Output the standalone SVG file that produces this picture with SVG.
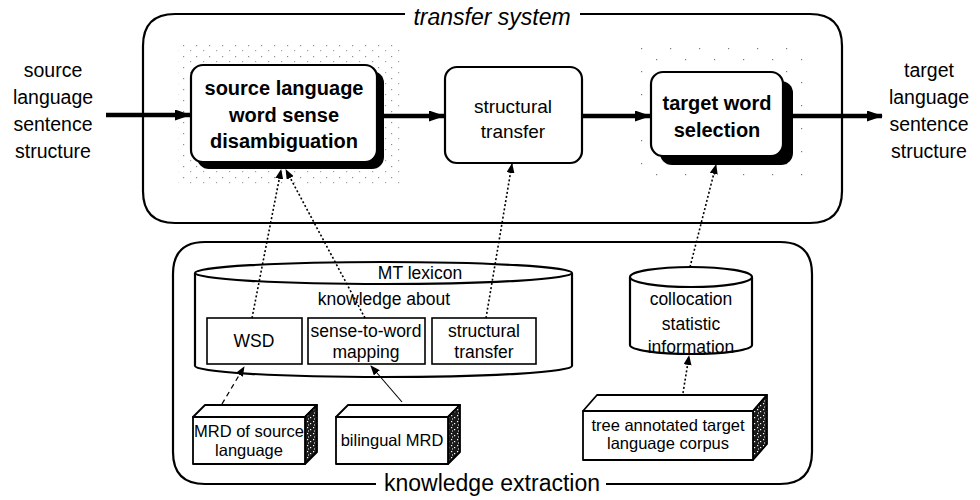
<svg xmlns="http://www.w3.org/2000/svg" width="980" height="500" viewBox="0 0 980 500">
<defs>
<style>
.t{font-family:"Liberation Sans",Arial,sans-serif;fill:#000;text-anchor:middle}
.lbl{font-size:19.5px}
.bold{font-size:20px;font-weight:bold}
.reg{font-size:19px}
.in{font-size:17.5px}
.cube{font-size:16.5px}
.title{font-size:23px}
.cont{fill:none;stroke:#000;stroke-width:2.2}
.box{fill:#fff;stroke:#000;stroke-width:2.2}
.ibox{fill:#fff;stroke:#000;stroke-width:1.6}
.shadow{fill:#000}
.thick{stroke:#000;stroke-width:4.5;fill:none}
.dot{stroke:#000;stroke-width:1.6;stroke-dasharray:2 2.2;fill:none}
.dash{stroke:#000;stroke-width:1.3;stroke-dasharray:5 4;fill:none}
.thin{stroke:#000;stroke-width:1.1;fill:none}
.face{fill:#fff;stroke:#000;stroke-width:1.8;stroke-linejoin:round}
.side{fill:url(#grain);stroke:#000;stroke-width:1.8;stroke-linejoin:round}
</style>
<marker id="big" markerUnits="userSpaceOnUse" markerWidth="16" markerHeight="11" refX="15" refY="5.5" orient="auto">
<path d="M0,0 L16,5.5 L0,11 z" fill="#000"/>
</marker>
<marker id="small" markerUnits="userSpaceOnUse" markerWidth="10" markerHeight="8" refX="9" refY="4" orient="auto">
<path d="M0,0 L10,4 L0,8 z" fill="#000"/>
</marker>
<pattern id="grain" width="6" height="6" patternUnits="userSpaceOnUse">
<rect width="6" height="6" fill="#1a1a1a"/>
<rect x="1" y="1" width="1.2" height="1.2" fill="#fff"/>
<rect x="4" y="3" width="1.2" height="1.2" fill="#fff"/>
<rect x="2" y="4.5" width="1" height="1" fill="#fff"/>
</pattern>
<pattern id="stip" width="13" height="11" patternUnits="userSpaceOnUse">
<rect x="1" y="1" width="1.2" height="1.2" fill="#444"/>
<rect x="8" y="6" width="1.2" height="1.2" fill="#666"/>
</pattern>
<pattern id="stip2" width="29" height="23" patternUnits="userSpaceOnUse">
<rect x="3" y="2" width="1.2" height="1.2" fill="#444"/>
<rect x="18" y="13" width="1.2" height="1.2" fill="#444"/>
</pattern>
</defs>

<rect width="980" height="500" fill="#fff"/>

<!-- containers -->
<g id="transfer-system">
<path class="cont" d="M405,14 L175,14 Q143,14 143,46 L143,191 Q143,223 175,223 L810,223 Q842,223 842,191 L842,46 Q842,14 810,14 L580,14"/>
<text class="t title" x="492" y="25" font-style="italic">transfer system</text>
</g>
<g id="knowledge-extraction">
<path class="cont" d="M376,484 L205,484 Q173,484 173,452 L173,274 Q173,242 205,242 L780,242 Q812,242 812,274 L812,452 Q812,484 780,484 L606,484"/>
<text class="t title" x="492" y="491">knowledge extraction</text>
</g>

<!-- side labels -->
<g id="source-input">
<text class="t lbl" x="53" y="77">source</text>
<text class="t lbl" x="53" y="104">language</text>
<text class="t lbl" x="53" y="131">sentence</text>
<text class="t lbl" x="53" y="158">structure</text>
</g>
<g id="target-output">
<text class="t lbl" x="929" y="77">target</text>
<text class="t lbl" x="929" y="104">language</text>
<text class="t lbl" x="929" y="131">sentence</text>
<text class="t lbl" x="929" y="158">structure</text>
</g>

<!-- source WSD -->
<g id="source-wsd">
<rect x="178" y="42" width="222" height="145" fill="url(#stip)" opacity="0.6"/>
<rect class="shadow" x="197" y="71" width="187" height="98" rx="12"/>
<rect class="box" x="191" y="65" width="186" height="97" rx="12"/>
<text class="t bold" x="284" y="95">source language</text>
<text class="t bold" x="284" y="122">word sense</text>
<text class="t bold" x="284" y="148">disambiguation</text>
</g>

<g id="structural-transfer">
<rect class="box" x="445" y="67" width="137" height="96" rx="12"/>
<text class="t reg" x="513" y="113">structural</text>
<text class="t reg" x="513" y="138">transfer</text>
</g>

<g id="target-word-selection">
<rect x="640" y="40" width="170" height="145" fill="url(#stip2)" opacity="0.7"/>
<rect class="shadow" x="660" y="81" width="133" height="84" rx="12"/>
<rect class="box" x="651" y="72" width="132" height="84" rx="12"/>
<text class="t bold" x="717" y="110">target word</text>
<text class="t bold" x="717" y="137">selection</text>
</g>

<!-- MT lexicon -->
<g id="mt-lexicon">
<path class="box" d="M195,273 L195,366 A188.5,11 0 0 0 572,366 L572,273"/>
<ellipse class="box" cx="383.5" cy="273" rx="188.5" ry="11"/>
<text class="t in" x="420" y="279">MT lexicon</text>
<text class="t in" x="384" y="305">knowledge about</text>
</g>
<g id="wsd">
<rect class="ibox" x="207" y="318" width="95" height="46"/>
<text class="t in" x="254" y="347">WSD</text>
</g>
<g id="sense-to-word">
<rect class="ibox" x="308" y="318" width="117" height="46"/>
<text class="t in" x="366" y="337">sense-to-word</text>
<text class="t in" x="366" y="358">mapping</text>
</g>
<g id="structural-transfer-knowledge">
<rect class="ibox" x="432" y="318" width="104" height="46"/>
<text class="t in" x="484" y="337">structural</text>
<text class="t in" x="484" y="358">transfer</text>
</g>

<!-- collocation -->
<g id="collocation">
<path class="box" d="M630,277 L630,345 A61,9 0 0 0 752,345 L752,277"/>
<ellipse class="box" cx="691" cy="277" rx="61" ry="10"/>
<text class="t in" x="691" y="305">collocation</text>
<text class="t in" x="691" y="330">statistic</text>
<text class="t in" x="691" y="353">information</text>
</g>

<!-- cubes -->
<g id="mrd-source">
<polygon class="face" points="193,417 205,405 317,405 305,417"/>
<polygon class="side" points="305,417 317,405 317,452 305,464"/>
<rect class="face" x="193" y="417" width="112" height="47"/>
<text class="t cube" x="249" y="437">MRD of source</text>
<text class="t cube" x="249" y="456">language</text>
</g>
<g id="bilingual-mrd">
<polygon class="face" points="336,417 348,405 460,405 448,417"/>
<polygon class="side" points="448,417 460,405 460,452 448,464"/>
<rect class="face" x="336" y="417" width="112" height="47"/>
<text class="t cube" x="392" y="446">bilingual MRD</text>
</g>
<g id="tree-corpus">
<polygon class="face" points="583,411 597,395 767,395 753,411"/>
<polygon class="side" points="753,411 767,395 767,444 753,460"/>
<rect class="face" x="583" y="411" width="170" height="49"/>
<text class="t cube" x="668" y="431">tree annotated target</text>
<text class="t cube" x="668" y="449">language corpus</text>
</g>

<!-- connectors -->
<g id="connectors">
<line class="thick" x1="106" y1="115" x2="190" y2="115" marker-end="url(#big)"/>
<line class="thick" x1="384" y1="116" x2="444" y2="116" marker-end="url(#big)"/>
<line class="thick" x1="582" y1="116" x2="650" y2="116" marker-end="url(#big)"/>
<line class="thick" x1="793" y1="116" x2="882" y2="116" marker-end="url(#big)"/>
<line class="dot" x1="252" y1="318" x2="281" y2="170" marker-end="url(#small)"/>
<line class="dot" x1="365" y1="318" x2="286" y2="170" marker-end="url(#small)"/>
<line class="dot" x1="486" y1="318" x2="512" y2="164" marker-end="url(#small)"/>
<line class="dot" x1="690" y1="267" x2="716" y2="165" marker-end="url(#small)"/>
<line class="dot" x1="683" y1="393" x2="689" y2="356" marker-end="url(#small)"/>
<line class="dash" x1="222" y1="404" x2="244" y2="367" marker-end="url(#small)"/>
<line class="thin" x1="402" y1="402" x2="371" y2="366" marker-end="url(#small)"/>
</g>
</svg>
